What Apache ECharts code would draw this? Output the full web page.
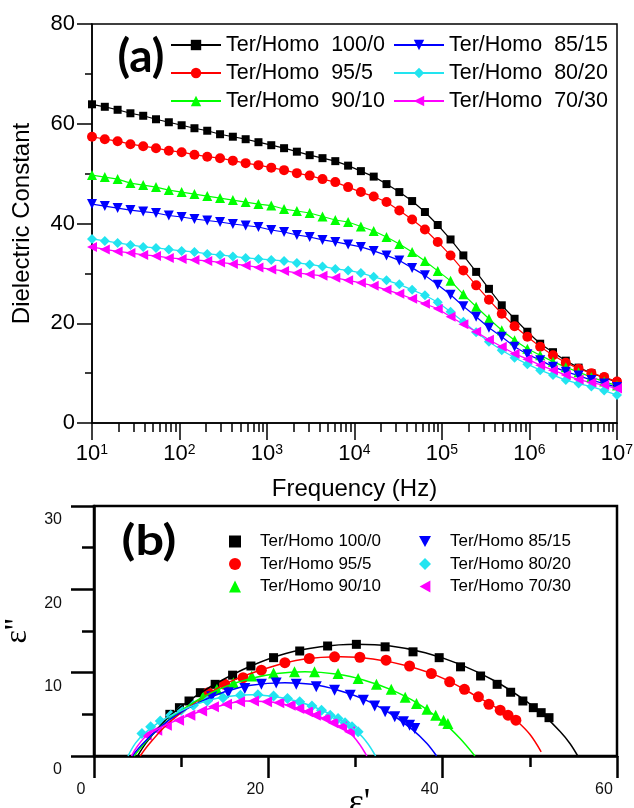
<!DOCTYPE html>
<html><head><meta charset="utf-8">
<script src="https://cdn.jsdelivr.net/npm/echarts@6/dist/echarts.min.js"></script>
<style>html,body{margin:0;padding:0;background:#fff}#c{width:634px;height:808px}</style>
</head><body><div id="c"></div>
<script>
// ---------- (a) dielectric constant vs frequency ----------
const freq = [10, 14.01, 19.62, 27.48, 38.49, 53.91, 75.52, 105.8, 148.2, 207.5, 290.7, 407.2, 570.3, 798.8,
  1119, 1567, 2195, 3075, 4307, 6033, 8450, 11836, 16579, 23222, 32527, 45561, 63818, 89390,
  125210, 175380, 245660, 344100, 481980, 675110, 945410, 1324400, 1855100, 2598500, 3639800, 5098300, 7141400, 10000000];
const dc100_0 = [63.9,63.4,62.8,62.1,61.6,60.9,60.3,59.7,59.1,58.6,57.9,57.4,56.9,56.3,55.7,55.1,54.4,53.7,53.1,52.5,51.6,
  50.5,49.4,47.9,46.3,44.5,42.3,39.7,36.8,33.6,30.3,26.9,23.6,20.9,18.3,15.9,14.2,12.5,11.1,10.0,9.1,8.2];
const dc95_5 = [57.4,56.9,56.5,55.9,55.5,55.1,54.6,54.3,53.8,53.4,53.1,52.6,52.1,51.7,51.2,50.7,50.1,49.6,48.9,48.3,47.3,
  46.3,45.4,44.3,42.6,40.8,38.8,36.3,33.6,30.6,27.6,24.7,21.9,19.4,17.3,15.3,13.6,12.1,10.9,10.0,9.2,8.3];
const dc90_10 = [49.7,49.3,48.9,48.1,47.7,47.3,46.7,46.3,45.9,45.5,45.1,44.7,44.3,43.9,43.6,42.9,42.5,42.1,41.4,40.7,40.3,
  39.4,38.5,37.3,35.9,34.3,32.5,30.5,28.5,25.8,23.3,20.9,18.6,16.6,14.9,13.6,12.3,11.2,10.2,9.2,8.3,7.5];
const dc85_15 = [43.9,43.5,43.1,42.7,42.4,42.1,41.6,41.3,40.9,40.6,40.3,39.9,39.6,39.3,38.7,38.3,37.7,37.3,36.7,36.3,35.8,
  35.3,34.5,33.6,32.6,31.1,29.6,27.7,25.7,23.4,21.3,19.1,17.3,15.3,13.8,12.6,11.3,10.3,9.5,8.6,7.9,7.2];
const dc80_20 = [36.9,36.5,36.1,35.7,35.3,35.1,34.8,34.5,34.3,33.9,33.7,33.4,33.1,32.9,32.7,32.5,32.1,31.8,31.4,30.9,30.6,
  30.1,29.3,28.6,27.8,26.7,25.6,24.2,22.3,20.3,18.2,16.3,14.6,13.1,11.8,10.6,9.6,8.6,7.9,7.3,6.5,5.6];
const dc70_30 = [35.3,34.8,34.4,34.1,33.7,33.5,33.1,32.9,32.7,32.5,32.2,31.9,31.6,31.2,30.8,30.5,30.1,29.8,29.5,29.1,28.6,
  28.1,27.5,26.7,25.9,24.9,23.9,22.9,21.3,19.8,18.3,16.7,15.3,13.9,12.8,11.6,10.6,9.6,8.7,8.1,7.6,6.9];
const majorFreqTicks = [1e1, 1e2, 1e3, 1e4, 1e5, 1e6, 1e7];
const minorFreqTicks = [];
for (let d = 1; d < 7; d++) for (let m = 2; m <= 9; m++) minorFreqTicks.push(m * Math.pow(10, d));

// ---------- (b) Cole-Cole plot: [eps', eps''] ----------
const cc100_0 = [[8.7,5.0],[9.8,5.8],[10.9,6.6],[12.2,7.6],[13.9,8.6],[15.9,9.7],[18.0,10.8],[20.6,11.8],[23.6,12.6],
  [26.8,13.2],[30.1,13.4],[33.4,13.1],[36.6,12.5],[39.6,11.8],[42.05,10.7],[44.35,9.6],[46.25,8.6],[47.8,7.65],
  [49.2,6.6],[50.4,5.8],[51.3,5.2],[52.2,4.6]];
const cc95_5 = [[13.1,7.6],[15.0,8.6],[17.1,9.4],[19.2,10.3],[21.9,11.2],[24.7,11.7],[27.6,11.9],[30.5,11.85],
  [33.5,11.5],[36.2,10.8],[38.7,9.9],[40.8,8.9],[42.5,8.0],[44.1,7.1],[45.3,6.2],[46.6,5.5],[47.5,4.9],[48.4,4.3]];
const cc90_10 = [[12.5,7.1],[14.1,8.0],[16.0,8.8],[18.1,9.6],[20.6,9.95],[23.0,10.1],[25.3,10.1],[28.0,9.9],[30.3,9.3],
  [32.4,8.6],[34.1,8.0],[35.7,7.05],[37.0,6.3],[38.2,5.6],[39.2,4.9],[40.1,4.3],[40.6,3.9]];
const cc85_15 = [[13.5,7.1],[15.4,7.6],[17.3,8.1],[19.2,8.6],[20.9,8.75],[23.2,8.6],[25.5,8.3],[27.6,7.9],[29.4,7.3],
  [30.9,6.7],[32.2,6.0],[33.4,5.3],[34.5,4.7],[35.5,4.1],[36.2,3.7],[36.8,3.3]];
const cc80_20 = [[5.5,2.7],[6.5,3.5],[7.6,4.2],[8.8,4.9],[10.0,5.5],[11.4,6.1],[13.0,6.6],[14.8,7.0],[16.8,7.3],
  [18.8,7.35],[20.6,7.2],[22.2,6.9],[23.6,6.5],[25.0,6.0],[26.1,5.5],[27.1,4.9],[28.0,4.5],[28.8,4.0],[29.6,3.5],[30.3,2.9]];
const cc70_30 = [[6.0,2.5],[7.2,3.1],[8.3,3.7],[9.7,4.3],[11.0,4.9],[12.35,5.4],[13.7,5.9],[15.2,6.2],[16.7,6.5],
  [18.3,6.6],[19.8,6.5],[21.2,6.4],[22.5,6.1],[23.5,5.7],[24.5,5.3],[25.4,4.9],[26.5,4.5],[27.4,4.0],[28.4,3.5],[29.3,2.9]];
// fitted arcs
const fit100_0 = [[5.0,0],[6.0,1.6],[7.5,3.5],[9,5.1],[11,6.7],[14,8.7],[18,10.8],[22,12.3],[26,13.1],[30,13.4],
  [34,13.2],[38,12.4],[42,11.0],[46,9.0],[49,7.0],[51.5,5.0],[53.5,2.9],[54.6,1.5],[55.5,0]];
const fit95_5 = [[5.3,0],[6.3,1.4],[8,3.4],[10,5.2],[13,7.4],[16,9.1],[20,10.6],[24,11.6],[28.3,11.9],[32,11.65],
  [36,10.8],[40,9.35],[44,7.1],[46,5.9],[47.5,4.9],[48.5,4.2],[50,2.6],[51.3,0.5]];
const fit90_10 = [[4.6,0],[5.6,1.3],[7,2.9],[9,4.7],[12,6.8],[15,8.3],[18,9.3],[21,9.9],[24.2,10.1],[28,9.8],[31,9.1],
  [34,8.0],[37,6.4],[40,4.1],[42,2.1],[43.7,0]];
const fit85_15 = [[4.4,0],[5.4,1.25],[7,2.9],[9,4.6],[12,6.4],[15,7.7],[18,8.5],[21.9,8.8],[25,8.6],[28,7.9],[31,6.8],
  [34,5.1],[36.5,3.2],[38.2,1.5],[39.3,0]];
const fit80_20 = [[3.9,0],[4.8,1.6],[6,2.9],[8,4.4],[11,5.9],[14,6.9],[18.1,7.35],[22,6.9],[25,6.0],[28,4.5],[30.3,2.8],
  [31.4,1.5],[32.3,0]];
const fit70_30 = [[4.3,0],[5,1.2],[6,2.4],[8,3.6],[11,4.9],[14,5.9],[17.5,6.6],[21,6.4],[24,5.5],[27,4.2],[29.3,2.8],
  [30.4,1.5],[31.3,0]];

const namesA = ['Ter/Homo  100/0','Ter/Homo  95/5','Ter/Homo  90/10','Ter/Homo  85/15','Ter/Homo  80/20','Ter/Homo  70/30'];
const namesB = ['Ter/Homo 100/0','Ter/Homo 95/5','Ter/Homo 90/10','Ter/Homo 85/15','Ter/Homo 80/20','Ter/Homo 70/30'];
const colors = ['#000000','#ff0000','#00ff00','#0000ff','#22e4f0','#ff00ff'];
const symbols = ['rect','circle','triangle','triangle','diamond','triangle'];
const rotates = [0,0,0,180,0,90];
const legendIconsB = ['rect','circle','triangle','path://M0,0 L10,0 L5,9 Z','diamond','path://M9,0 L9,10 L0,5 Z'];
const sizesA = [8,10,10,10,10,10];
const sizesB = [9,11,11,11,11,11];

const valsA = [dc100_0, dc95_5, dc90_10, dc85_15, dc80_20, dc70_30];
const ccB = [cc100_0, cc95_5, cc90_10, cc85_15, cc80_20, cc70_30];
const fitB = [fit100_0, fit95_5, fit90_10, fit85_15, fit80_20, fit70_30];

const FF = 'Liberation Sans, Arial, sans-serif';
const series = [];
valsA.forEach((vals, i) => {
  series.push({
    type: 'line', name: namesA[i], xAxisIndex: 0, yAxisIndex: 0,
    data: freq.map((f, j) => [f, vals[j]]),
    symbol: symbols[i], symbolSize: sizesA[i], symbolRotate: rotates[i], showAllSymbol: true,
    lineStyle: { color: colors[i], width: 1.2 }, itemStyle: { color: colors[i] }
  });
});
fitB.forEach((d, i) => {
  series.push({
    type: 'line', xAxisIndex: 2, yAxisIndex: 1, data: d, smooth: 0.35, showSymbol: false,
    lineStyle: { color: colors[i], width: 1.5 }, itemStyle: { color: colors[i] }, silent: true
  });
});
ccB.forEach((d, i) => {
  series.push({
    type: 'scatter', name: namesB[i], xAxisIndex: 2, yAxisIndex: 1, data: d,
    symbol: symbols[i], symbolSize: sizesB[i], symbolRotate: rotates[i],
    itemStyle: { color: colors[i], opacity: 1 }
  });
});

const legendBase = {
  orient: 'vertical', selectedMode: false, padding: 0, itemGap: 6, itemWidth: 50, itemHeight: 13,
  textStyle: { fontSize: 21.5, color: '#000', fontFamily: FF, lineHeight: 21 }
};
const legendBaseB = {
  orient: 'vertical', selectedMode: false, padding: 0, itemGap: 5.5, itemWidth: 12, itemHeight: 12,
  symbolRotate: 0,
  textStyle: { fontSize: 17, color: '#000', fontFamily: FF, lineHeight: 17, padding: [0, 0, 0, 14] }
};
const legendDataB = namesB.map((n, i) => ({ name: n, icon: legendIconsB[i] }));

const option = {
  animation: false,
  backgroundColor: '#fff',
  grid: [
    { left: 92, top: 24, width: 525, height: 399, show: true, borderColor: '#000', borderWidth: 1.5,
      backgroundColor: 'transparent', outerBoundsMode: 'none', containLabel: false },
    { left: 94, top: 506, width: 523, height: 250, show: true, borderColor: '#000', borderWidth: 2.5,
      backgroundColor: 'transparent', outerBoundsMode: 'none', containLabel: false }
  ],
  legend: [
    Object.assign({}, legendBase, { data: namesA.slice(0, 3), left: 170, top: 34 }),
    Object.assign({}, legendBase, { data: namesA.slice(3), left: 393, top: 34 }),
    Object.assign({}, legendBaseB, { data: legendDataB.slice(0, 3), left: 229, top: 533 }),
    Object.assign({}, legendBaseB, { data: legendDataB.slice(3), left: 419, top: 533 })
  ],
  xAxis: [
    {
      gridIndex: 0, type: 'log', logBase: 10, min: 10, max: 1e7, position: 'bottom',
      axisLine: { show: true, onZero: false, lineStyle: { color: '#000', width: 1.5 } },
      axisTick: { show: true, customValues: majorFreqTicks, length: 17, lineStyle: { color: '#000', width: 1.5 } },
      axisLabel: {
        customValues: majorFreqTicks, margin: 20,
        formatter: v => '{b|10}{s|' + Math.round(Math.log10(v)) + '}',
        rich: { b: { fontSize: 22, fontFamily: FF, color: '#000' }, s: { fontSize: 14, fontFamily: FF, color: '#000', verticalAlign: 'top' } }
      },
      splitLine: { show: false }, minorTick: { show: false },
      name: 'Frequency (Hz)', nameLocation: 'middle', nameGap: 54, nameMoveOverlap: false,
      nameTextStyle: { fontSize: 24, color: '#000', fontFamily: FF }
    },
    {
      gridIndex: 0, type: 'log', logBase: 10, min: 10, max: 1e7, position: 'bottom', offset: 0,
      axisLine: { show: false, onZero: false },
      axisTick: { show: true, customValues: minorFreqTicks, length: 9, lineStyle: { color: '#000', width: 1.5 } },
      axisLabel: { show: false }, splitLine: { show: false }
    },
    {
      gridIndex: 1, type: 'value', min: 0, max: 60, interval: 20, position: 'bottom',
      axisLine: { show: true, onZero: false, lineStyle: { color: '#000', width: 2.5 } },
      axisTick: { show: true, length: 22, lineStyle: { color: '#000', width: 2.5 } },
      minorTick: { show: true, splitNumber: 2, length: 11, lineStyle: { color: '#000', width: 2.5 } },
      axisLabel: { fontSize: 16, color: '#111', fontFamily: FF, margin: 26, padding: [0, 26, 0, 0] },
      splitLine: { show: false },
      name: "\u03b5'", nameLocation: 'middle', nameGap: 30, nameMoveOverlap: false,
      nameTextStyle: { fontSize: 36, color: '#000', fontFamily: 'Liberation Serif, serif', padding: [0, 0, 0, 8] }
    }
  ],
  yAxis: [
    {
      gridIndex: 0, type: 'value', min: 0, max: 80, interval: 20,
      axisLine: { show: true, onZero: false, lineStyle: { color: '#000', width: 1.5 } },
      axisTick: { show: true, length: 15, lineStyle: { color: '#000', width: 1.5 } },
      minorTick: { show: true, splitNumber: 2, length: 7, lineStyle: { color: '#000', width: 1.5 } },
      axisLabel: { fontSize: 22, color: '#000', fontFamily: FF, margin: 17 },
      splitLine: { show: false },
      name: 'Dielectric Constant', nameLocation: 'middle', nameGap: 58, nameMoveOverlap: false,
      nameTextStyle: { fontSize: 24, color: '#000', fontFamily: FF }
    },
    {
      gridIndex: 1, type: 'value', min: 0, max: 30, interval: 10,
      axisLine: { show: true, onZero: false, lineStyle: { color: '#000', width: 2.5 } },
      axisTick: { show: true, length: 23, lineStyle: { color: '#000', width: 2.5 } },
      minorTick: { show: true, splitNumber: 2, length: 12, lineStyle: { color: '#000', width: 2.5 } },
      axisLabel: { fontSize: 16, color: '#111', fontFamily: FF, margin: 32, verticalAlign: 'top', lineHeight: 16, padding: [6, 0, 0, 0] },
      splitLine: { show: false },
      name: "\u03b5''", nameLocation: 'middle', nameGap: 60, nameMoveOverlap: false,
      nameTextStyle: { fontSize: 32, color: '#000', fontFamily: 'Liberation Serif, serif' }
    }
  ],
  graphic: [
    { type: 'text', x: 141, y: 57, style: { text: '(a)', font: 'bold 46px Lato, sans-serif', fill: '#000', align: 'center', verticalAlign: 'middle' } },
    { type: 'text', x: 149, y: 541, scaleX: 1.2, style: { text: '(b)', font: 'bold 42px Lato, sans-serif', fill: '#000', align: 'center', verticalAlign: 'middle' } }
  ],
  series: series
};
const chart = echarts.init(document.getElementById('c'), null, { renderer: 'canvas' });
chart.setOption(option);
</script>
</body></html>
